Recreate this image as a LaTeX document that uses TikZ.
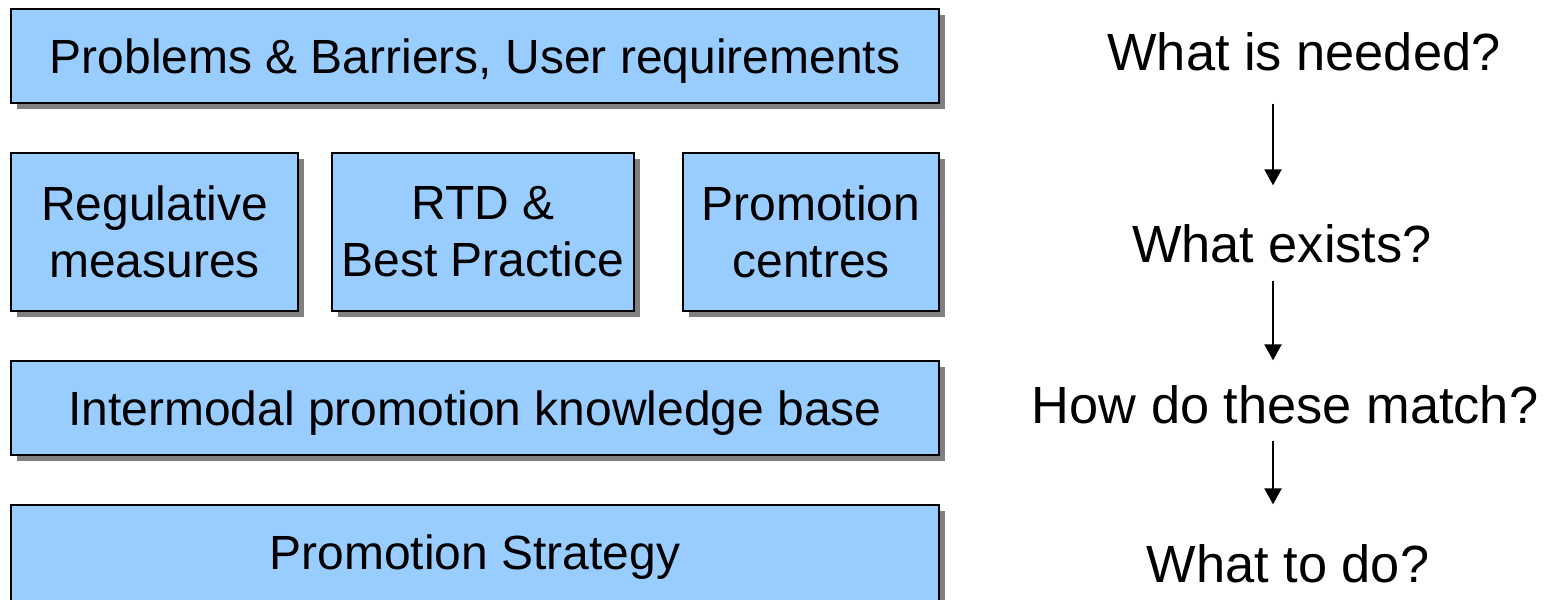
\documentclass[tikz,border=0pt]{standalone}
\usepackage{fontspec}
\setmainfont{Liberation Sans}
\usetikzlibrary{positioning,shadows,arrows.meta}
\definecolor{boxblue}{HTML}{99CCFF}
\definecolor{shadowgray}{HTML}{808080}

\begin{document}
\begin{tikzpicture} [on grid,
    box/.style={draw=black, line width=0.7pt, fill=boxblue, inner sep=0pt, align=center,
        font=\fontsize{13.65pt}{16.2pt}\selectfont,
        drop shadow={shadow xshift=0.06cm, shadow yshift=-0.06cm, fill=shadowgray, opacity=1}},
    wide/.style={box, minimum width=9.28cm, minimum height=0.94cm, text depth=0pt},
    tall/.style={box, minimum height=1.58cm},
    question/.style={anchor=base, inner sep=0pt, text height=0.375cm, text depth=0pt,
        font=\fontsize{14.9pt}{17.9pt}\selectfont},
    flow/.style={line width=0.6pt, -{Triangle[width=0.17cm,length=0.16cm]}}]
    \useasboundingbox (0,0) rectangle (15.6,-5.99);

    \node[wide] (needs) at (4.75,-0.56) {Problems \& Barriers, User requirements};
    \node[tall, minimum width=2.87cm] (reg) at (1.545,-2.32) {Regulative\\measures};
    \node[tall, minimum width=3.02cm] (rtd) [right=3.285cm of reg] {RTD \&\\Best Practice};
    \node[tall, minimum width=2.56cm] (centres) [right=3.28cm of rtd] {Promotion\\centres};
    \node[wide] (kbase) [below=3.52cm of needs] {Intermodal promotion knowledge base};
    \node[wide, minimum height=1.04cm, text depth=0.1cm] (strategy) [below=1.49cm of kbase] {Promotion Strategy};

    \node[question] (need) at (13.04,-0.70) {What is needed?};
    \node[question] (exist) at (12.82,-2.62) {What exists?};
    \node[question] (match) at (12.85,-4.23) {How do these match?};
    \node[question] (todo) at (12.88,-5.82) {What to do?};

    \coordinate (ax) at (12.73,0);
    \draw[flow, shorten <=0.33cm, shorten >=0.385cm] (need.south -| ax) -- (exist.north -| ax);
    \draw[flow, shorten <=0.18cm, shorten >=0.245cm] (exist.south -| ax) -- (match.north -| ax);
    \draw[flow, shorten <=0.17cm, shorten >=0.395cm] (match.south -| ax) -- (todo.north -| ax);
\end{tikzpicture}
\end{document}
